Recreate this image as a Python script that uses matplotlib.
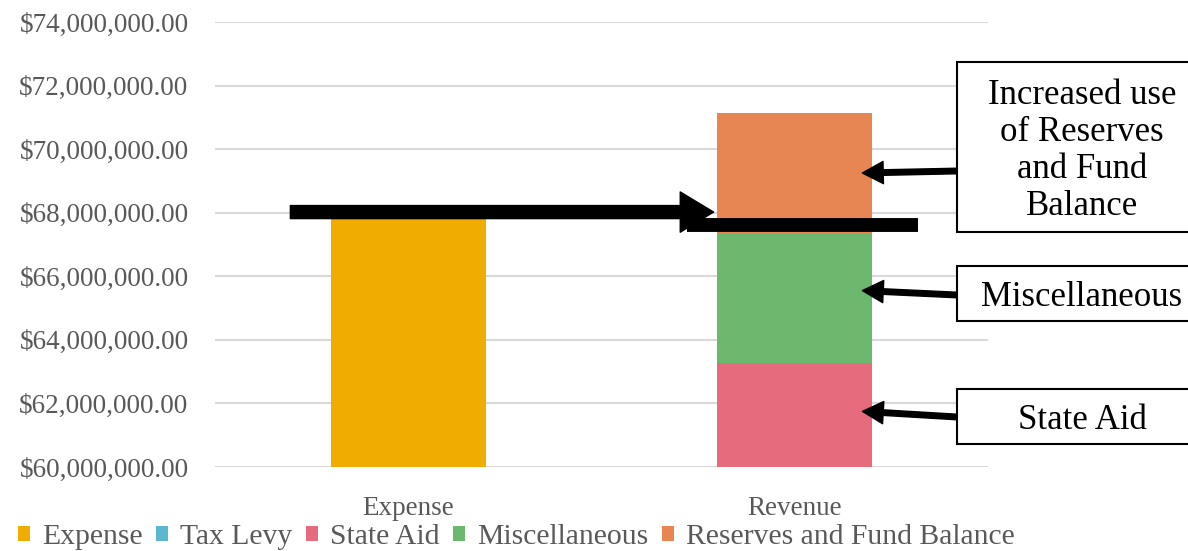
import numpy as np
import matplotlib
matplotlib.use('Agg')
import matplotlib.pyplot as plt
from matplotlib.patches import Rectangle
from matplotlib.ticker import FuncFormatter

plt.rcParams['font.family'] = ['Liberation Serif', 'DejaVu Serif']

categories = ['Expense', 'Revenue']
series = ['Expense', 'Tax Levy', 'State Aid', 'Miscellaneous', 'Reserves and Fund Balance']
expense = [67850000, 0]
tax_levy = [0, 59950000]
state_aid = [0, 3320000]
misc = [0, 4080000]
reserves = [0, 3800000]
colors = ['#F0AD00', '#5BB8CF', '#E56B7D', '#6BB86E', '#E88653']

W, H = 1188, 551
fig = plt.figure(figsize=(W/100, H/100), dpi=100)
ax = fig.add_axes([215/W, 1-467/H, (988-215)/W, (467-22)/H])

x = np.arange(len(categories))
vals = [expense, tax_levy, state_aid, misc, reserves]
bottom = np.zeros(len(categories))
handles = []
for name, v, c in zip(series, vals, colors):
    b = ax.bar(x, v, 0.4, bottom=bottom, color=c, label=name, zorder=2)
    handles.append(b)
    bottom += np.array(v)

ax.set_ylim(60000000, 74000000)
ax.set_xlim(-0.5, 1.5)
ax.set_yticks(np.arange(60000000, 74000001, 2000000))
ax.yaxis.set_major_formatter(FuncFormatter(lambda v, p: '${:,.2f}'.format(v)))
ax.set_xticks(x)
ax.set_xticklabels(categories)
ax.grid(axis='y', color='#D9D9D9', lw=1.5, zorder=0)
for s in ax.spines.values():
    s.set_visible(False)
ax.tick_params(length=0, labelsize=19.5, colors='#595959', pad=19)
ax.tick_params(axis='x', pad=21)

# big arrow expense -> revenue, and the bar under it
ax.annotate('', xy=(0.79, 68020000), xytext=(-0.305, 68020000),
            arrowprops=dict(arrowstyle='simple,head_length=2.4,head_width=2.9,tail_width=0.94',
                            color='k', mutation_scale=10, shrinkA=0, shrinkB=0), zorder=5)
ax.plot([0.72, 1.32], [67600000, 67600000], color='k', lw=10, solid_capstyle='butt', zorder=5, clip_on=False)

# text boxes (figure pixels)
def fx(px):
    return px / W
def fy(py):
    return 1 - py / H

boxes = [(62, 232, 'Increased use\nof Reserves\nand Fund\nBalance', 171, 69250000),
         (266, 321, 'Miscellaneous', 295, 65550000),
         (389, 444, 'State Aid', 417, 61750000)]
for top, bot, txt, ay, tip in boxes:
    fig.patches.append(Rectangle((fx(957), fy(bot)), fx(260), (bot-top)/H, transform=fig.transFigure,
                                 fill=True, fc='white', ec='k', lw=1.5, zorder=6))
    fig.text(fx(1082), fy((top+bot)/2 + 4), txt, ha='center', va='center', fontsize=25,
             linespacing=1.16, zorder=7)
    ax.annotate('', xy=(1.175, tip), xycoords='data', xytext=(957, H-ay), textcoords='figure pixels',
                arrowprops=dict(arrowstyle='simple,head_length=1.5,head_width=1.6,tail_width=0.4',
                                color='k', mutation_scale=10, shrinkA=0, shrinkB=0), zorder=5)

fig.legend(handles=handles, labels=series, loc='lower left', bbox_to_anchor=(0.0, -0.03), ncol=5,
           frameon=False, fontsize=21.3, handlelength=0.42, handleheight=0.42, handletextpad=0.4,
           columnspacing=0.45, borderaxespad=0.2, labelcolor='#595959')

fig.savefig('out.png', dpi=100)
